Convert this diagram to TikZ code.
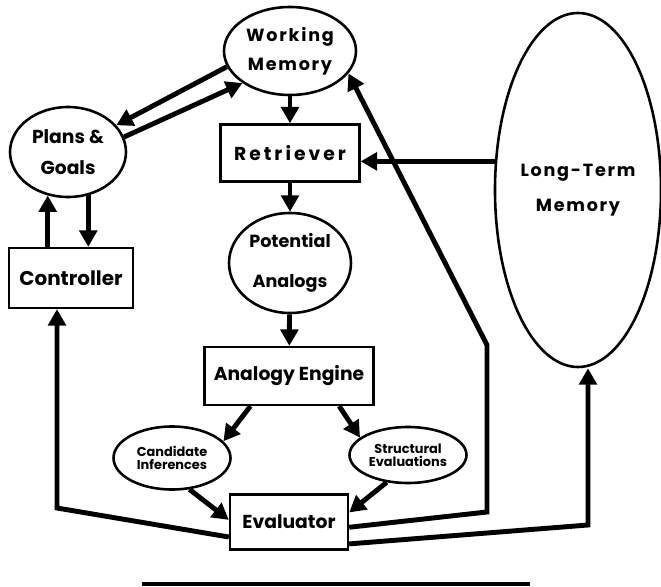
\documentclass[tikz,border=0pt]{standalone}
\usepackage{fontspec}
\setmainfont{Poppins}
\usepackage{tikz}
\usetikzlibrary{shapes}
\usetikzlibrary{arrows.meta}
\usetikzlibrary{calc}

\newcommand{\spaced}{\addfontfeature{LetterSpace=10}}
\newcommand{\wide}{\addfontfeature{LetterSpace=16}}

\tikzset{
  mem/.style={ellipse, draw, line width=2.2pt, inner sep=0pt, align=center,
    font=\fontsize{15}{25}\selectfont\bfseries},
  unit/.style={rectangle, draw, line width=2pt, inner sep=0pt, align=center,
    font=\fontsize{16}{18}\selectfont\bfseries},
  small/.style={mem, font=\fontsize{11}{11}\selectfont\bfseries},
  flow/.style={-{Triangle[length=14pt,width=15pt]}, line width=4.2pt},
}

\begin{document}
\begin{tikzpicture}[x=0.03cm, y=-0.03cm]
  \useasboundingbox (0,0) rectangle (661,587);
  % memories and units
  \node[mem, minimum width=3.96cm, minimum height=2.64cm] (wm) at (290,51) {{\spaced Working}\\{\spaced Memory}};
  \node[mem, minimum width=3.48cm, minimum height=2.7cm, font=\fontsize{16}{27}\selectfont\bfseries] (pg) at (68,152) {Plans \&\\Goals};
  \node[unit, minimum width=4.17cm, minimum height=1.71cm] (ret) at (290,153) {\wide Retriever};
  \node[mem, minimum width=3.66cm, minimum height=3.0cm, font=\fontsize{15}{34}\selectfont\bfseries] (pa) at (290,263) {Potential\\Analogs};
  \node[unit, minimum width=3.72cm, minimum height=1.8cm, font=\fontsize{17}{18}\selectfont\bfseries] (ctrl) at (71,278) {Controller};
  \node[unit, minimum width=5.07cm, minimum height=1.74cm] (ae) at (289,376) {Analogy Engine};
  \node[small, minimum width=3.51cm, minimum height=1.89cm] (ci) at (172,458) {Candidate\\Inferences};
  \node[small, minimum width=3.51cm, minimum height=1.68cm] (se) at (408,455) {Structural\\Evaluations};
  \node[unit, minimum width=3.54cm, minimum height=1.65cm] (ev) at (289,522) {Evaluator};
  \node[mem, minimum width=4.98cm, minimum height=10.62cm, font=\fontsize{15}{30}\selectfont\bfseries] (ltm) at (578,190) {{\spaced Long-Term}\\{\spaced Memory}};

  % bends of the long feedback lines
  \coordinate (toWMa) at (487,512);
  \coordinate (toWMb) at (487,345);
  \coordinate (toLTM) at (588,525);
  \coordinate (toCtrl) at (57,508);

  % main column
  \draw[flow] (wm) -- (ret);
  \draw[flow] (ret) -- (pa);
  \draw[flow] (pa) -- (ae);
  \draw[flow] (ae.218) -- (ci.18);
  \draw[flow] (ae.329) -- (se.160);
  \draw[flow] (ci.299) -- (ev.178);
  \draw[flow] (se.232) -- (ev.9);

  % goals and control
  \draw[flow] (wm.194) -- (pg.29);
  \draw[flow] (pg.15) -- (wm.214);
  \draw[flow] (pg.295) -- (pg.295 |- ctrl.north);
  \draw[flow] (pg.245 |- ctrl.north) -- (pg.245);
  \draw[flow] (ltm.161) -- (ltm.161 -| ret.east);

  % feedback from the evaluator
  \draw[flow] (ev.355) -- (toWMa) -- (toWMb) -- (wm.339);
  \draw[flow] (ev.340) -- (toLTM) -- (toLTM |- ltm.south);
  \draw[flow] (ev.194) -- (toCtrl) -- (toCtrl |- ctrl.south);

  \draw[line width=3pt] (142,584) -- (530,584);
\end{tikzpicture}
\end{document}
